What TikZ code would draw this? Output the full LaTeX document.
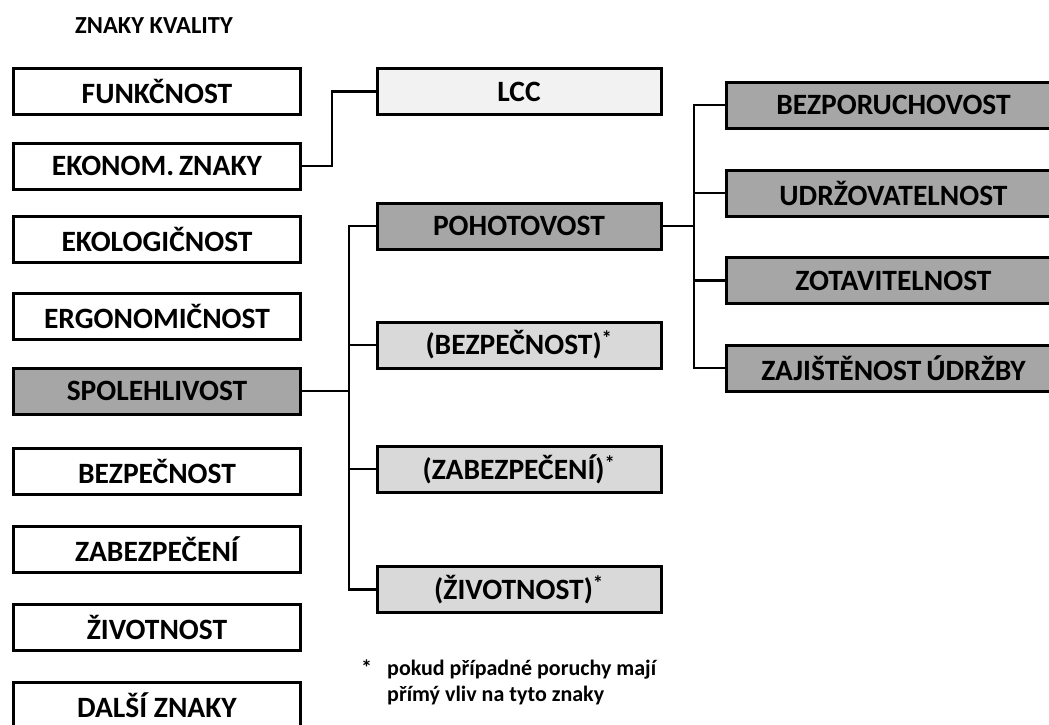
\documentclass[tikz,border=0pt]{standalone}
\usepackage{fontspec}
\setmainfont{Carlito}
\definecolor{gdark}{HTML}{A6A6A6}
\definecolor{gmid}{HTML}{D9D9D9}
\definecolor{glight}{HTML}{F2F2F2}
\begin{document}
\begin{tikzpicture}[x=1pt,y=-1pt,
  box/.style={draw=black,line width=3pt,minimum height=46pt,inner sep=0pt,
    font=\fontsize{29.5}{32}\selectfont\bfseries},
  lbox/.style={box,minimum width=287pt,fill=white},
  mbox/.style={box,minimum width=284pt},
  rbox/.style={box,minimum width=334pt,fill=gdark},
  link/.style={line width=2.8pt,line join=miter},
  notetext/.style={font=\fontsize{22}{26}\selectfont\bfseries,inner sep=0pt}]
\useasboundingbox (0,0) rectangle (1049,724);
\clip (0,0) rectangle (1049,724);

% title
\node[font=\fontsize{24.5}{28}\selectfont\bfseries] (title) at (154,26) {ZNAKY KVALITY};

% first level: quality attributes
\node[lbox] (funk) at (157,91.5) {FUNKČNOST};
\node[lbox] (ekon) at (157,166) {EKONOM.\,ZNAKY};
\node[lbox] (ekol) at (157,239.5) {EKOLOGIČNOST};
\node[lbox] (ergo) at (157,316.5) {ERGONOMIČNOST};
\node[lbox,fill=gdark] (spol) at (157,391) {SPOLEHLIVOST};
\node[lbox] (bezp) at (157,471) {BEZPEČNOST};
\node[lbox] (zabe) at (157,549) {ZABEZPEČENÍ};
\node[lbox] (zivo) at (157,627.5) {ŽIVOTNOST};
\node[lbox] (dals) at (157,705.5) {DALŠÍ ZNAKY};

% second level
\node[mbox,fill=glight] (lcc) at (519,91.5) {LCC};
\node[mbox,fill=gdark] (poho) at (519,226) {POHOTOVOST};
\node[mbox,fill=gmid] (bez2) at (519,345) {(BEZPEČNOST)\textsuperscript{*}};
\node[mbox,fill=gmid] (zab2) at (519,469) {(ZABEZPEČENÍ)\textsuperscript{*}};
\node[mbox,fill=gmid] (ziv2) at (519,589.5) {(ŽIVOTNOST)\textsuperscript{*}};

% third level: components of availability
\node[rbox,anchor=west] (bezu) at (725,105) {BEZPORUCHOVOST};
\node[rbox,anchor=west] (udrz) at (725,193) {UDRŽOVATELNOST};
\node[rbox,anchor=west] (zota) at (725,280.5) {ZOTAVITELNOST};
\node[rbox,anchor=west] (zaji) at (725,368) {ZAJIŠTĚNOST\,ÚDRŽBY};

% connectors
\coordinate (b1) at (332,0);
\draw[link] (ekon.east) -| (b1 |- lcc) -- (lcc.west);

\coordinate (b2) at (349,0);
\draw[link] (spol.east) -- (b2 |- spol);
\draw[link] (poho.west) -- (b2 |- poho) -- (b2 |- ziv2) -- (ziv2.west);
\draw[link] (bez2.west) -- (b2 |- bez2);
\draw[link] (zab2.west) -- (b2 |- zab2);

\coordinate (b3) at (694,0);
\draw[link] (poho.east) -- (b3 |- poho);
\draw[link] (bezu.west) -- (b3 |- bezu) -- (b3 |- zaji) -- (zaji.west);
\draw[link] (udrz.west) -- (b3 |- udrz);
\draw[link] (zota.west) -- (b3 |- zota);

% footnote
\node[notetext,anchor=base west] (star) at (361,675) {*};
\node[notetext,anchor=base west] (note1) at (387,675) {pokud případné poruchy mají};
\node[notetext,anchor=base west] (note2) at (387,701) {přímý vliv na tyto znaky};
\end{tikzpicture}
\end{document}
